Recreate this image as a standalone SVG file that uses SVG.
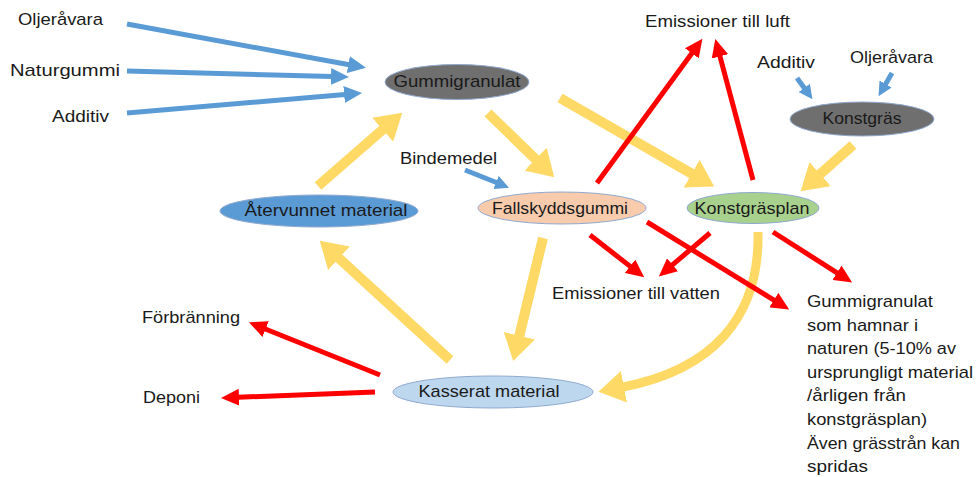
<svg xmlns="http://www.w3.org/2000/svg" width="979" height="477" viewBox="0 0 979 477">
<defs>
<style>
text{font-family:"Liberation Sans",Arial,sans-serif;font-size:17px;fill:#1a1a1a}
.node ellipse{stroke:#8fa9cf;stroke-width:1}
.nl{text-anchor:middle}
.blue{stroke:#5b9bd5;stroke-width:5;fill:none}
.blues{stroke:#5b9bd5;stroke-width:5;fill:none}
.red{stroke:#ff0000;stroke-width:5;fill:none}
.yel{stroke:#ffd966;stroke-width:10;fill:none}
</style>
<marker id="mb" markerUnits="userSpaceOnUse" markerWidth="18" markerHeight="17" refX="1" refY="8.5" orient="auto"><path d="M0,0 L18,8.5 L0,17 Z" fill="#5b9bd5"/></marker>
<marker id="mbs" markerUnits="userSpaceOnUse" markerWidth="14" markerHeight="14" refX="1" refY="7" orient="auto"><path d="M0,0 L14,7 L0,14 Z" fill="#5b9bd5"/></marker>
<marker id="mr" markerUnits="userSpaceOnUse" markerWidth="18" markerHeight="17" refX="1" refY="8.5" orient="auto"><path d="M0,0 L18,8.5 L0,17 Z" fill="#ff0000"/></marker>
<marker id="my" markerUnits="userSpaceOnUse" markerWidth="26" markerHeight="32" refX="1" refY="16" orient="auto"><path d="M0,0 L26,16 L0,32 Z" fill="#ffd966"/></marker>
</defs>
<rect width="979" height="477" fill="#ffffff"/>

<g id="connectors">
<path class="yel" d="M318,186 L383.4,129.1" marker-end="url(#my)"/>
<path class="yel" d="M488,113 L536.3,159.9" marker-end="url(#my)"/>
<path class="yel" d="M560,98 L692.5,174.1" marker-end="url(#my)"/>
<path class="yel" d="M853,145 L819.4,174.7" marker-end="url(#my)"/>
<path class="yel" d="M543,238 L519.1,336.7" marker-end="url(#my)"/>
<path class="yel" d="M450,360 L338.2,257.6" marker-end="url(#my)"/>
<path class="yel" style="stroke-width:9" d="M758,232 C760,320 710,370 623,387" marker-end="url(#my)"/>

<path class="blue" d="M127,24 L349.3,64.8" marker-end="url(#mb)"/>
<path class="blue" d="M127,71 L332,76.5" marker-end="url(#mb)"/>
<path class="blue" d="M127,113 L345.1,94.5" marker-end="url(#mb)"/>
<path class="blues" d="M465,170 L497,182.8" marker-end="url(#mbs)"/>
<path class="blues" d="M797,78 L804.8,88.7" marker-end="url(#mbs)"/>
<path class="blues" d="M892,73 L885.1,84.9" marker-end="url(#mbs)"/>

<path class="red" d="M597,183 L692.4,52.5" marker-end="url(#mr)"/>
<path class="red" d="M753,180 L719.7,55.4" marker-end="url(#mr)"/>
<path class="red" d="M590,235 L630.8,266.9" marker-end="url(#mr)"/>
<path class="red" d="M710,233 L671.8,265.4" marker-end="url(#mr)"/>
<path class="red" d="M647,222 L774.7,300.6" marker-end="url(#mr)"/>
<path class="red" d="M773,232 L837.8,273.3" marker-end="url(#mr)"/>
<path class="red" d="M380,375 L264.7,328.7" marker-end="url(#mr)"/>
<path class="red" d="M375,392 L238,397.3" marker-end="url(#mr)"/>
</g>

<g id="gummigranulat" class="node">
<ellipse cx="457" cy="82" rx="72" ry="17.5" fill="#6f6f6f"/>
<text class="nl" x="457" y="87" textLength="127" lengthAdjust="spacingAndGlyphs">Gummigranulat</text>
</g>
<g id="konstgras" class="node">
<ellipse cx="862" cy="119" rx="72" ry="17" fill="#6f6f6f"/>
<text class="nl" x="862" y="124" textLength="79" lengthAdjust="spacingAndGlyphs">Konstgräs</text>
</g>
<g id="fallskyddsgummi" class="node">
<ellipse cx="562" cy="208" rx="84" ry="16" fill="#f8cbad"/>
<text class="nl" x="560" y="214" textLength="136" lengthAdjust="spacingAndGlyphs">Fallskyddsgummi</text>
</g>
<g id="konstgrasplan" class="node">
<ellipse cx="753" cy="208" rx="66" ry="15.5" fill="#a9d18e"/>
<text class="nl" x="752" y="214" textLength="115" lengthAdjust="spacingAndGlyphs">Konstgräsplan</text>
</g>
<g id="atervunnet" class="node">
<ellipse cx="319" cy="211" rx="99" ry="16" fill="#5b9bd5"/>
<text class="nl" x="326" y="216" textLength="163" lengthAdjust="spacingAndGlyphs">Återvunnet material</text>
</g>
<g id="kasserat" class="node">
<ellipse cx="493" cy="392" rx="100" ry="16" fill="#bdd7ee"/>
<text class="nl" x="489" y="397" textLength="141" lengthAdjust="spacingAndGlyphs">Kasserat material</text>
</g>

<g id="labels">
<text x="18" y="25" textLength="85" lengthAdjust="spacingAndGlyphs">Oljeråvara</text>
<text x="10" y="76" textLength="110" lengthAdjust="spacingAndGlyphs">Naturgummi</text>
<text x="52" y="122" textLength="57" lengthAdjust="spacingAndGlyphs">Additiv</text>
<text x="645" y="27" textLength="145" lengthAdjust="spacingAndGlyphs">Emissioner till luft</text>
<text x="757" y="68" textLength="58" lengthAdjust="spacingAndGlyphs">Additiv</text>
<text x="850" y="63" textLength="83" lengthAdjust="spacingAndGlyphs">Oljeråvara</text>
<text x="400" y="164" textLength="97" lengthAdjust="spacingAndGlyphs">Bindemedel</text>
<text x="552" y="299" textLength="168" lengthAdjust="spacingAndGlyphs">Emissioner till vatten</text>
<text x="142" y="323" textLength="98" lengthAdjust="spacingAndGlyphs">Förbränning</text>
<text x="143" y="403" textLength="57" lengthAdjust="spacingAndGlyphs">Deponi</text>
</g>
<g id="natur-text">
<text x="807" y="307" textLength="126" lengthAdjust="spacingAndGlyphs">Gummigranulat</text>
<text x="807" y="330.6" textLength="111" lengthAdjust="spacingAndGlyphs">som hamnar i</text>
<text x="807" y="354.2" textLength="149" lengthAdjust="spacingAndGlyphs">naturen (5-10% av</text>
<text x="807" y="377.8" textLength="166" lengthAdjust="spacingAndGlyphs">ursprungligt material</text>
<text x="807" y="401.4" textLength="99" lengthAdjust="spacingAndGlyphs">/årligen från</text>
<text x="807" y="425" textLength="120" lengthAdjust="spacingAndGlyphs">konstgräsplan)</text>
<text x="807" y="448.6" textLength="153" lengthAdjust="spacingAndGlyphs">Även grässtrån kan</text>
<text x="807" y="472.2" textLength="61" lengthAdjust="spacingAndGlyphs">spridas</text>
</g>
</svg>
